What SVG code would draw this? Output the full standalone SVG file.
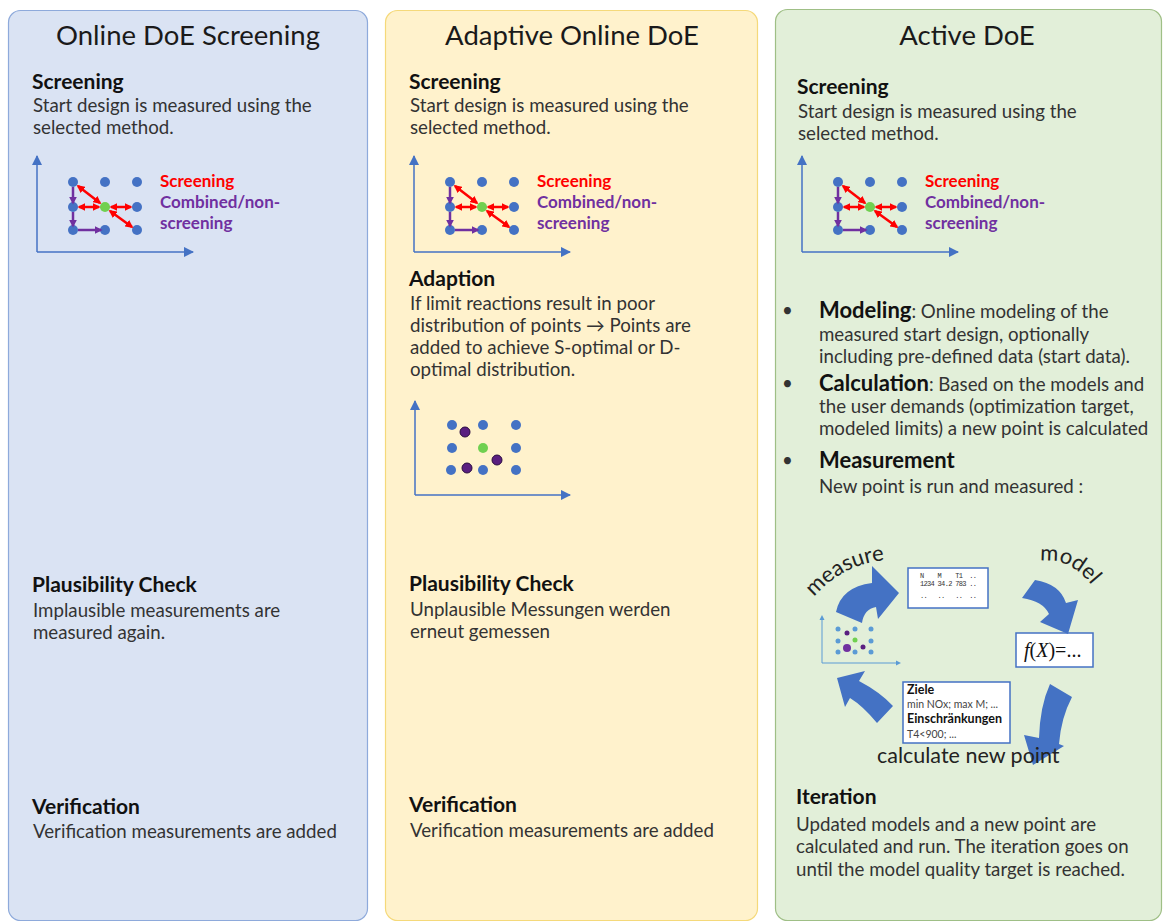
<svg xmlns="http://www.w3.org/2000/svg" width="1165" height="924" viewBox="0 0 1165 924">
<style>
text{font-family:Lato,"Liberation Sans",sans-serif;fill:#333}
.title{font-size:27.5px;text-anchor:middle;fill:#1a1a1a}
.h{font-size:21px;font-weight:bold;fill:#111}
.hb{font-size:22px;font-weight:bold;fill:#111}
.b{font-size:18.7px}
.lr{font-size:17px;font-weight:bold;fill:#ff0000}
.lp{font-size:17px;font-weight:bold;fill:#7030a0}
.ax{stroke:#4472c4;stroke-width:1.5;fill:none}
.dot{fill:#4472c4}
.grn{fill:#70d050}
.red{stroke:#ff0000;stroke-width:2.5;fill:none}
.pur{stroke:#7030a0;stroke-width:2.5;fill:none}
.big{fill:#4472c4}
.box{fill:#fff;stroke:#4472c4;stroke-width:1.5}
.mono{font-family:"Liberation Mono",monospace;font-size:7px;fill:#333}
.zb{font-size:12.5px;font-weight:bold;fill:#111}
.zr{font-size:10.5px;fill:#444}
</style>
<defs>
<marker id="ah" viewBox="0 0 10 10" refX="9" refY="5" markerWidth="7" markerHeight="7" orient="auto-start-reverse"><path d="M0,0 L10,5 L0,10 z" fill="#4472c4"/></marker>
<marker id="rh" viewBox="0 0 10 10" refX="8" refY="5" markerWidth="3.2" markerHeight="3.2" orient="auto-start-reverse"><path d="M0,0 L10,5 L0,10 z" fill="#ff0000"/></marker>
<marker id="ph" viewBox="0 0 10 10" refX="8" refY="5" markerWidth="3.2" markerHeight="3.2" orient="auto-start-reverse"><path d="M0,0 L10,5 L0,10 z" fill="#7030a0"/></marker>
<g id="scr">
<line class="ax" x1="37" y1="252" x2="37" y2="156" marker-end="url(#ah)"/>
<line class="ax" x1="37" y1="252" x2="193" y2="252" marker-end="url(#ah)"/>
<circle class="dot" cx="73" cy="182" r="5"/><circle class="dot" cx="105" cy="182" r="5"/><circle class="dot" cx="137" cy="182" r="5"/>
<circle class="dot" cx="73" cy="207" r="5"/><circle class="grn" cx="105" cy="207" r="5"/><circle class="dot" cx="137" cy="207" r="5"/>
<circle class="dot" cx="73" cy="230" r="5"/><circle class="dot" cx="105" cy="230" r="5"/><circle class="dot" cx="137" cy="230" r="5"/>
<line class="red" x1="78" y1="186" x2="100" y2="203" marker-start="url(#rh)" marker-end="url(#rh)"/>
<line class="red" x1="79" y1="207" x2="99" y2="207" marker-start="url(#rh)" marker-end="url(#rh)"/>
<line class="red" x1="111" y1="207" x2="131" y2="207" marker-start="url(#rh)" marker-end="url(#rh)"/>
<line class="red" x1="110" y1="211" x2="132" y2="227" marker-start="url(#rh)" marker-end="url(#rh)"/>
<line class="pur" x1="73" y1="187" x2="73" y2="203" marker-end="url(#ph)"/>
<line class="pur" x1="73" y1="212" x2="73" y2="226" marker-end="url(#ph)"/>
<line class="pur" x1="78" y1="230" x2="101" y2="230" marker-end="url(#ph)"/>
<text class="lr" x="160" y="187">Screening</text>
<text class="lp" x="160" y="208">Combined/non-</text>
<text class="lp" x="160" y="229">screening</text>
</g>
</defs>

<g id="panel-online-doe-screening">
<rect x="8.5" y="10.5" width="359" height="910" rx="12" fill="#dae3f3" stroke="#8eaadb" stroke-width="1.2"/>
<text class="title" x="188" y="45">Online DoE Screening</text>
<text class="h" x="32" y="89">Screening</text>
<text class="b" x="33" y="112">Start design is measured using the</text>
<text class="b" x="33" y="134">selected method.</text>
<use href="#scr"/>
<text class="h" x="32" y="592">Plausibility Check</text>
<text class="b" x="33" y="617">Implausible measurements are</text>
<text class="b" x="33" y="639">measured again.</text>
<text class="h" x="32" y="814">Verification</text>
<text class="b" x="33" y="838">Verification measurements are added</text>
</g>

<g id="panel-adaptive-online-doe">
<rect x="385.5" y="10.5" width="372" height="910" rx="12" fill="#fff2cc" stroke="#f5d97a" stroke-width="1.2"/>
<text class="title" x="572" y="45">Adaptive Online DoE</text>
<text class="h" x="409" y="89">Screening</text>
<text class="b" x="410" y="112">Start design is measured using the</text>
<text class="b" x="410" y="134">selected method.</text>
<use href="#scr" transform="translate(377,0)"/>
<text class="h" x="409" y="286">Adaption</text>
<text class="b" x="410" y="310">If limit reactions result in poor</text>
<text class="b" x="410" y="332">distribution of points → Points are</text>
<text class="b" x="410" y="354">added to achieve S-optimal or D-</text>
<text class="b" x="410" y="376">optimal distribution.</text>
<g id="adaption-plot">
<line class="ax" x1="415" y1="495" x2="415" y2="401" marker-end="url(#ah)"/>
<line class="ax" x1="415" y1="495" x2="570" y2="495" marker-end="url(#ah)"/>
<circle class="dot" cx="452" cy="425" r="5"/><circle class="dot" cx="483" cy="425" r="5"/><circle class="dot" cx="516" cy="425" r="5"/>
<circle class="dot" cx="452" cy="448" r="5"/><circle class="grn" cx="483" cy="448" r="5"/><circle class="dot" cx="516" cy="448" r="5"/>
<circle class="dot" cx="451" cy="470" r="5"/><circle class="dot" cx="483" cy="470" r="5"/><circle class="dot" cx="516" cy="470" r="5"/>
<circle cx="465" cy="432" r="5" fill="#5a1f80" stroke="#2a0c40" stroke-width="1"/>
<circle cx="497" cy="460" r="5" fill="#5a1f80" stroke="#2a0c40" stroke-width="1"/>
<circle cx="467" cy="468" r="5" fill="#5a1f80" stroke="#2a0c40" stroke-width="1"/>
</g>
<text class="h" x="409" y="591">Plausibility Check</text>
<text class="b" x="410" y="616">Unplausible Messungen werden</text>
<text class="b" x="410" y="638">erneut gemessen</text>
<text class="h" x="409" y="812">Verification</text>
<text class="b" x="410" y="837">Verification measurements are added</text>
</g>

<g id="panel-active-doe">
<rect x="775.5" y="9.5" width="386" height="911" rx="12" fill="#e2efd9" stroke="#9fbf86" stroke-width="1.2"/>
<text class="title" x="967" y="45">Active DoE</text>
<text class="h" x="797" y="94">Screening</text>
<text class="b" x="798" y="118">Start design is measured using the</text>
<text class="b" x="798" y="140">selected method.</text>
<use href="#scr" transform="translate(765,0)"/>
<text class="b" x="782" y="317">•</text>
<text x="819" y="318"><tspan class="hb">Modeling</tspan><tspan class="b">: Online modeling of the</tspan></text>
<text class="b" x="819" y="341">measured start design, optionally</text>
<text class="b" x="819" y="363">including pre-defined data (start data).</text>
<text class="b" x="782" y="390">•</text>
<text x="819" y="391"><tspan class="hb">Calculation</tspan><tspan class="b">: Based on the models and</tspan></text>
<text class="b" x="819" y="413">the user demands (optimization target,</text>
<text class="b" x="819" y="435">modeled limits) a new point is calculated</text>
<text class="b" x="782" y="467">•</text>
<text class="hb" x="819" y="468">Measurement</text>
<text class="b" x="819" y="493">New point is run and measured :</text>
<text class="h" x="796" y="804">Iteration</text>
<text class="b" x="796" y="831">Updated models and a new point are</text>
<text class="b" x="796" y="853">calculated and run. The iteration goes on</text>
<text class="b" x="796" y="876">until the model quality target is reached.</text>
</g>

<g id="cycle">
<path id="measurePath" d="M 814,597 Q 850,556 906,560" fill="none"/>
<path id="modelPath" d="M 1040,561 Q 1076,556 1102,600" fill="none"/>
<text style="font-size:22px;fill:#222"><textPath href="#measurePath">measure</textPath></text>
<text style="font-size:22px;fill:#222"><textPath href="#modelPath">model</textPath></text>
<g id="data-box">
<rect class="box" x="908" y="568" width="80" height="40"/>
<text class="mono" x="920" y="578" xml:space="preserve" textLength="57">N    M    T1  ..</text>
<text class="mono" x="920" y="586" textLength="57">1234 34.2 783 ..</text>
<text class="mono" x="920" y="598" xml:space="preserve" textLength="57">..   ..   ..  ..</text>
</g>
<g id="function-box">
<rect class="box" x="1016" y="633" width="77" height="34"/>
<text x="1024" y="657" style="font-family:'Liberation Serif',serif;font-size:20px;fill:#111"><tspan font-style="italic">f</tspan>(<tspan font-style="italic">X</tspan>)=...</text>
</g>
<g id="targets-box">
<rect class="box" x="903" y="682" width="107" height="61"/>
<text class="zb" x="907" y="694">Ziele</text>
<text class="zr" x="907" y="708">min NOx; max M; ...</text>
<text class="zb" x="907" y="723">Einschränkungen</text>
<text class="zr" x="907" y="738">T4&lt;900; ...</text>
</g>
<g id="mini-plot">
<line x1="822" y1="663" x2="822" y2="619" stroke="#5b9bd5" stroke-width="1"/>
<path d="M822,615 l-2.5,5 h5 z" fill="#5b9bd5"/>
<line x1="822" y1="663" x2="897" y2="663" stroke="#5b9bd5" stroke-width="1"/>
<path d="M901,663 l-5,-2.5 v5 z" fill="#5b9bd5"/>
<g fill="#5b9bd5">
<circle cx="838" cy="629" r="2.5"/><circle cx="855" cy="629" r="2.5"/><circle cx="871" cy="629" r="2.5"/>
<circle cx="838" cy="641" r="2.5"/><circle cx="871" cy="641" r="2.5"/>
<circle cx="838" cy="652" r="2.5"/><circle cx="855" cy="652" r="2.5"/><circle cx="871" cy="652" r="2.5"/>
</g>
<circle cx="855" cy="640" r="2.5" fill="#70d050"/>
<circle cx="847" cy="633" r="2.5" fill="#5a1f80"/>
<circle cx="847" cy="648" r="4" fill="#7030a0"/>
<circle cx="863" cy="647" r="2.5" fill="#5a1f80"/>
</g>
<g id="cycle-arrows">
<path class="big" d="M 836,612 Q 841,587 872,583 L 872,566 L 899,593 L 878,619 L 876,607 Q 864,609 862,623 Z"/>
<path class="big" d="M 1035,580 Q 1060,584 1066,603 L 1078,600 L 1068,634 L 1040,622 L 1049,614 Q 1043,601 1022,598 Z"/>
<path class="big" d="M 1050,684 L 1072,697 Q 1061,718 1059,744 L 1064,746 L 1033,765 L 1024,735 L 1039,738 Q 1040,706 1050,684 Z"/>
<path class="big" d="M 837,678 L 865,671 L 859,681 Q 880,692 893,706 L 877,723 Q 863,706 850,698 L 845,707 Z"/>
</g>
<text x="877" y="763" style="font-size:21.5px;fill:#222">calculate new point</text>
</g>
</svg>
